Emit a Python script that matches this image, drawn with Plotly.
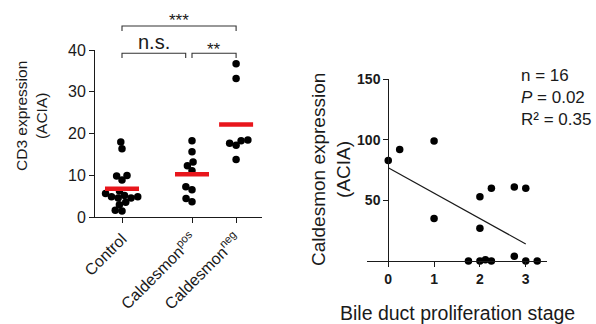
import numpy as np
import plotly.graph_objects as go

# ---------------- data ----------------
groups = ["Control", "Caldesmon<sup>pos</sup>", "Caldesmon<sup>neg</sup>"]
control_vals = [18.0, 16.4, 10.0, 8.9, 9.9, 6.3, 5.7, 4.9, 4.6, 4.6, 4.9, 5.2, 3.6, 3.0, 1.5, 1.7]
pos_vals = [18.3, 15.7, 13.2, 12.3, 11.1, 7.3, 6.6, 4.5, 3.7]
neg_vals = [36.7, 33.2, 18.5, 17.7, 17.2, 18.3, 13.8]
group_vals = [control_vals, pos_vals, neg_vals]
left_yticks = [0, 10, 20, 30, 40]

comparisons = [(0, 2, "***"), (0, 1, "n.s."), (1, 2, "**")]

stage_x = [0, 0.25, 1, 1, 2, 2.25, 2, 2.75, 3, 1.75, 2, 2.12, 2.25, 2.75, 3, 3.25]
caldesmon_y = [83, 92, 99, 35, 53, 60, 27, 61, 60, 0, 0, 1, 0, 4, 0, 0]
fit_intercept = 77
fit_slope = -21
fit_x_range = [0, 3]
right_xticks = [0, 1, 2, 3]
right_yticks = [50, 100, 150]
stats_lines = ["n = 16", "<i>P</i> = 0.02", "R² = 0.35"]

# ---------------- layout helpers ----------------
W, H = 596, 324
FONT = "Liberation Sans, Arial, sans-serif"
INK = "#1a1a1a"


def fx(p):
    return p / W


def fy(p):
    return 1 - p / H


# left panel geometry (pixels)
L_X0, L_X1, L_Y0, L_Y1 = 95, 262, 217.3, 50
group_pos = [0, 1, 1.63]
PX_PER_X = 70.0
l_xrange = [-(122 - L_X0) / PX_PER_X, (L_X1 - 122) / PX_PER_X]
PX_PER_Y = (L_Y0 - L_Y1) / 40.0
DOT = 7.5


def swarm(vals, d=6.8):
    """Deterministic beeswarm offsets (in x data units)."""
    order = np.argsort(vals, kind="stable")
    placed = []
    offs = np.zeros(len(vals))
    for i in order:
        y = vals[i] * PX_PER_Y
        forb = []
        for (xj, yj) in placed:
            dy = abs(y - yj)
            if dy < d:
                w = np.sqrt(d * d - dy * dy)
                forb.append((xj - w, xj + w))
        cands = [0.0] + [a for a, b in forb] + [b for a, b in forb]
        cands.sort(key=lambda c: (abs(c), c))
        x = 0.0
        for c in cands:
            if all(not (a + 1e-6 < c < b - 1e-6) for a, b in forb):
                x = c
                break
        placed.append((x, y))
        offs[i] = x / PX_PER_X
    return offs


fig = go.Figure()

for gi, vals in enumerate(group_vals):
    offs = swarm(vals)
    fig.add_trace(go.Scatter(
        x=group_pos[gi] + offs, y=vals, mode="markers",
        marker=dict(size=DOT, color="black"),
        xaxis="x", yaxis="y", cliponaxis=False, showlegend=False))

half = 17 / PX_PER_X
for gi, vals in enumerate(group_vals):
    m = float(np.mean(vals))
    fig.add_trace(go.Scatter(
        x=[group_pos[gi] - half, group_pos[gi] + half], y=[m, m], mode="lines",
        line=dict(color="#e8161c", width=4.5),
        xaxis="x", yaxis="y", showlegend=False))

# right panel
fig.add_trace(go.Scatter(
    x=stage_x, y=caldesmon_y, mode="markers",
    marker=dict(size=DOT, color="black"),
    xaxis="x2", yaxis="y2", cliponaxis=False, showlegend=False))
fx_line = np.array(fit_x_range, dtype=float)
fig.add_trace(go.Scatter(
    x=fx_line, y=fit_intercept + fit_slope * fx_line, mode="lines",
    line=dict(color=INK, width=1.2),
    xaxis="x2", yaxis="y2", showlegend=False))

# brackets: (bracket top px, leg end px, label middle px)
shapes = []
annotations = []
bracket_levels = {"***": (26, 31, 20), "n.s.": (53.3, 58, 42), "**": (53.3, 58, 49)}
for a, b, lab in comparisons:
    top, leg, ty = bracket_levels[lab]
    xa = group_pos[a]
    xb = group_pos[b] - (0.09 if lab == "n.s." else 0)
    shapes.append(dict(type="path", xref="x", yref="paper",
                       path=f"M {xa},{fy(leg)} L {xa},{fy(top)} L {xb},{fy(top)} L {xb},{fy(leg)}",
                       line=dict(color="#333333", width=1.1)))
    annotations.append(dict(x=(xa + xb) / 2, y=fy(ty), xref="x", yref="paper",
                            text=lab, showarrow=False, xanchor="center", yanchor="middle",
                            font=dict(size=20 if lab == "n.s." else 17, color=INK, family=FONT)))

annotations += [
    dict(x=fx(31), y=fy(116), xref="paper", yref="paper", text="CD3 expression<br>(ACIA)",
         textangle=-90, showarrow=False, xanchor="center", yanchor="middle",
         font=dict(size=15.5, color=INK, family=FONT)),
    dict(x=fx(331), y=fy(169), xref="paper", yref="paper", text="Caldesmon expression<br>(ACIA)",
         textangle=-90, showarrow=False, xanchor="center", yanchor="middle",
         font=dict(size=19, color=INK, family=FONT)),
    dict(x=fx(457), y=fy(313), xref="paper", yref="paper", text="Bile duct proliferation stage",
         showarrow=False, xanchor="center", yanchor="middle",
         font=dict(size=19.5, color=INK, family=FONT)),
    dict(x=fx(519), y=fy(64), xref="paper", yref="paper", text="<br>".join(stats_lines),
         showarrow=False, xanchor="left", yanchor="top", align="left",
         font=dict(size=17, color=INK, family=FONT)),
]

R_X0, R_X1, R_Y0, R_Y1 = 366.7, 547.3, 261, 79.3
r_xrange = [-0.47, 3.47]
r_yaxis_px = R_X0 + (0 - r_xrange[0]) / (r_xrange[1] - r_xrange[0]) * (R_X1 - R_X0)

axis_common = dict(showgrid=False, zeroline=False, showline=True, linecolor=INK, linewidth=1,
                   ticks="outside", ticklen=5, tickwidth=1, tickcolor=INK, automargin=False)

fig.update_layout(
    width=W, height=H, margin=dict(l=0, r=0, t=0, b=0, autoexpand=False),
    paper_bgcolor="white", plot_bgcolor="white",
    font=dict(family=FONT, color=INK),
    xaxis=dict(domain=[fx(L_X0), fx(L_X1)], range=l_xrange, anchor="y",
               tickvals=group_pos, ticktext=groups, tickangle=-45,
               tickfont=dict(size=16, color=INK), **axis_common),
    yaxis=dict(domain=[fy(L_Y0), fy(L_Y1)], range=[0, 40], anchor="x",
               tickvals=left_yticks, tickfont=dict(size=16, color=INK), **axis_common),
    xaxis2=dict(domain=[fx(R_X0), fx(R_X1)], range=r_xrange, anchor="y2",
                tickvals=right_xticks, tickfont=dict(size=14, color=INK, weight="bold"),
                **axis_common),
    yaxis2=dict(domain=[fy(R_Y0), fy(R_Y1)], range=[0, 150], anchor="free", position=fx(r_yaxis_px),
                tickvals=right_yticks, tickfont=dict(size=14, color=INK, weight="bold"),
                **axis_common),
    shapes=shapes, annotations=annotations,
)

fig.write_html("out.html", config={"displayModeBar": False},
               post_script="document.body.style.margin='0px';document.body.style.padding='0px';")
